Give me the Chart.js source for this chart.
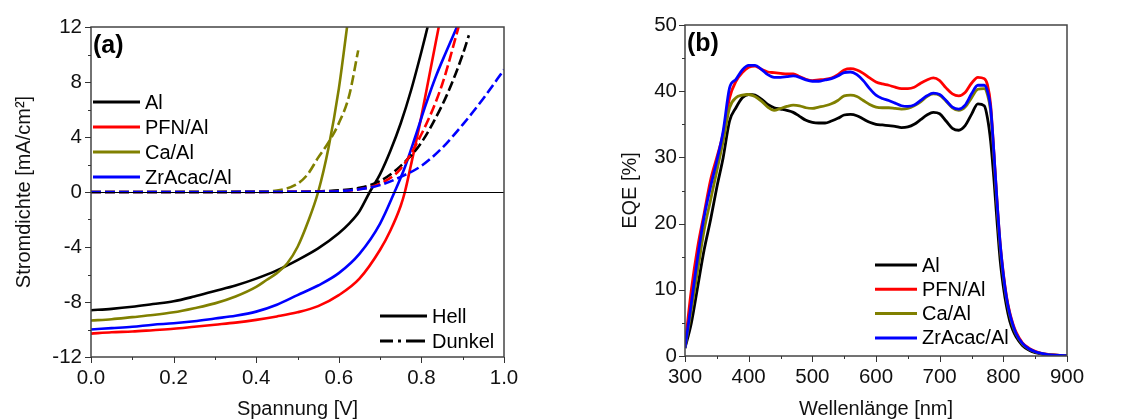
<!DOCTYPE html>
<html>
<head>
<meta charset="utf-8">
<script src="https://cdn.jsdelivr.net/npm/chart.js@4.4.1/dist/chart.umd.min.js"></script>
<style>
  html, body { margin: 0; padding: 0; background: #fff; }
  #wrap { position: relative; width: 1123px; height: 419px; overflow: hidden; }
  #jv { position: absolute; left: 0; top: 0; }
  #eqe { position: absolute; left: 560px; top: 0; }
</style>
</head>
<body>
<div id="wrap">
  <canvas id="jv" width="520" height="419"></canvas>
  <canvas id="eqe" width="563" height="419"></canvas>
</div>
<script>
// ---- (a) JV-Kennlinien: Spannung [V] / Stromdichte [mA/cm2] ----
const alHellV = [0, 0.05, 0.1, 0.15, 0.2, 0.25, 0.3, 0.35, 0.4, 0.45, 0.5, 0.55, 0.6, 0.625, 0.65, 0.675, 0.7, 0.725, 0.75, 0.775, 0.8, 0.815];
const alHellJ = [-8.6, -8.5, -8.35, -8.15, -7.95, -7.6, -7.2, -6.8, -6.3, -5.7, -4.95, -4.1, -3.0, -2.3, -1.4, 0, 1.3, 3.0, 5.0, 7.4, 10.2, 12];

const pfnHellV = [0, 0.05, 0.1, 0.15, 0.2, 0.25, 0.3, 0.35, 0.4, 0.45, 0.5, 0.55, 0.6, 0.65, 0.7, 0.725, 0.75, 0.76, 0.775, 0.8, 0.82, 0.842];
const pfnHellJ = [-10.3, -10.2, -10.15, -10.05, -9.95, -9.8, -9.65, -9.5, -9.3, -9.05, -8.75, -8.3, -7.5, -6.3, -4.2, -2.8, -1.0, 0, 2.0, 5.5, 8.6, 12];

const caHellV = [0, 0.05, 0.1, 0.15, 0.2, 0.25, 0.3, 0.35, 0.4, 0.425, 0.45, 0.475, 0.5, 0.525, 0.55, 0.575, 0.6, 0.62];
const caHellJ = [-9.35, -9.25, -9.1, -8.95, -8.75, -8.45, -8.1, -7.6, -6.9, -6.4, -5.9, -5.2, -4.0, -2.2, 0, 3.2, 7.5, 12];

const zrHellV = [0, 0.05, 0.1, 0.15, 0.2, 0.25, 0.3, 0.35, 0.4, 0.45, 0.5, 0.55, 0.6, 0.65, 0.7, 0.735, 0.76, 0.785, 0.81, 0.835, 0.86, 0.886];
const zrHellJ = [-10.0, -9.9, -9.8, -9.65, -9.55, -9.4, -9.2, -9.0, -8.7, -8.2, -7.5, -6.8, -5.9, -4.5, -2.3, 0, 1.8, 4.0, 6.3, 8.4, 10.2, 12];

const alDunkelV = [0, 0.5, 0.55, 0.6, 0.65, 0.7, 0.75, 0.8, 0.85, 0.875, 0.9, 0.915];
const alDunkelJ = [0, 0.02, 0.05, 0.12, 0.3, 0.8, 1.9, 3.6, 6.3, 8.0, 10.0, 11.4];

const pfnDunkelV = [0, 0.55, 0.6, 0.65, 0.7, 0.75, 0.8, 0.85, 0.89];
const pfnDunkelJ = [0, 0.02, 0.06, 0.2, 0.6, 1.7, 4.2, 7.8, 12];

const caDunkelV = [0, 0.4, 0.45, 0.5, 0.525, 0.55, 0.575, 0.6, 0.625, 0.647];
const caDunkelJ = [0, 0.02, 0.1, 0.6, 1.3, 2.5, 3.6, 5.0, 7.0, 10.3];

const zrDunkelV = [0, 0.55, 0.6, 0.65, 0.7, 0.75, 0.8, 0.85, 0.9, 0.95, 1.0];
const zrDunkelJ = [0, 0.02, 0.06, 0.2, 0.5, 1.1, 1.9, 3.2, 4.9, 6.8, 8.9];

// ---- (b) EQE: Wellenlänge [nm] / EQE [%] ----
const wellenlaenge = [300, 310, 320, 330, 340, 350, 360, 370, 380, 390,
  400, 410, 420, 430, 440, 450, 460, 470, 480, 490,
  500, 510, 520, 530, 540, 550, 560, 570, 580, 590,
  600, 610, 620, 630, 640, 650, 660, 670, 680, 690,
  700, 710, 720, 730, 740, 750, 760, 770,
  775, 780, 785, 790, 795, 800, 805, 810, 815, 820,
  830, 840, 850, 860, 870, 880, 890, 900];

const eqeAl = [1.2, 5, 10.5, 16, 20.5, 25.5, 30, 35.5, 37.5, 39,
  39.5, 39.4, 38.8, 38, 37.5, 37.3, 37.1, 36.8, 36.2, 35.6,
  35.3, 35.2, 35.2, 35.5, 35.9, 36.4, 36.5, 36.3, 35.8, 35.3,
  35.0, 34.9, 34.8, 34.7, 34.5, 34.6, 35.0, 35.7, 36.4, 36.8,
  36.6, 35.5, 34.4, 34.1, 34.8, 36.5, 38.1, 37.8,
  36, 32.5, 27, 20.5, 14.5, 10.5, 7.5, 5.3, 3.9, 2.9,
  1.6, 0.9, 0.5, 0.3, 0.18, 0.12, 0.08, 0.05];

const eqePfn = [1.5, 10, 16.5, 21.5, 26.5, 30, 33.6, 39, 41.5, 42.8,
  43.6, 43.8, 43.3, 42.9, 42.8, 42.7, 42.6, 42.6, 42.2, 41.8,
  41.6, 41.7, 41.8, 42.0, 42.5, 43.2, 43.4, 43.2, 42.7, 42.0,
  41.4, 41.1, 40.9, 40.6, 40.4, 40.4, 40.6, 41.2, 41.7, 42.0,
  41.6, 40.5, 39.6, 39.3, 39.8, 41.2, 42.1, 41.9,
  41, 38, 31, 23.5, 17, 12.5, 9, 6.6, 4.9, 3.6,
  2.0, 1.2, 0.7, 0.4, 0.25, 0.15, 0.1, 0.07];

const eqeCa = [1.2, 7, 13, 19, 23.5, 28, 32.5, 37.5, 39, 39.4,
  39.5, 39.2, 38.5, 37.6, 37.1, 37.4, 37.7, 37.9, 37.8, 37.5,
  37.4, 37.6, 37.8, 38.1, 38.6, 39.3, 39.4, 39.2, 38.6, 38.0,
  37.6, 37.5, 37.5, 37.4, 37.3, 37.4, 37.8, 38.4, 39.2, 39.6,
  39.4, 38.5, 37.5, 37.1, 37.6, 39.0, 40.3, 40.4,
  39.5, 37, 30.5, 23, 16.5, 12, 8.6, 6.2, 4.5, 3.3,
  1.8, 1.05, 0.6, 0.35, 0.2, 0.12, 0.08, 0.05];

const eqeZr = [1.2, 8, 15, 21, 25.5, 29.5, 34, 40.5, 41.8, 43.2,
  43.9, 43.9, 43.3, 42.5, 42.1, 42.1, 42.2, 42.3, 42.1, 41.7,
  41.5, 41.5, 41.7, 41.9, 42.3, 42.8, 42.9, 42.5, 41.6, 40.4,
  39.4, 38.9, 38.6, 38.2, 37.8, 37.7, 37.9, 38.6, 39.3, 39.7,
  39.5, 38.6, 37.6, 37.3, 37.9, 39.6, 40.9, 40.9,
  40, 37.5, 31, 23.5, 17, 12.3, 8.8, 6.4, 4.7, 3.4,
  1.9, 1.1, 0.65, 0.38, 0.22, 0.13, 0.09, 0.06];

const proben = ['Al', 'PFN/Al', 'Ca/Al', 'ZrAcac/Al'];
const farben = ['#000000', '#ff0000', '#808000', '#0000ff'];

const FONT = "'Liberation Sans', Arial, sans-serif";

function pts(xs, ys) {
  return xs.map((x, i) => ({ x: x, y: ys[i] }));
}

// frame, minor ticks, zero line, panel label and in-plot legends
const deco = {
  id: 'deco',
  afterDraw(chart, args, o) {
    const ctx = chart.ctx;
    const a = chart.chartArea;
    const sx = chart.scales.x, sy = chart.scales.y;
    ctx.save();

    if (o.zeroLine) {
      const y0 = Math.round(sy.getPixelForValue(0)) + 0.5;
      ctx.strokeStyle = '#000';
      ctx.lineWidth = 1;
      ctx.beginPath(); ctx.moveTo(a.left, y0); ctx.lineTo(a.right, y0); ctx.stroke();
    }

    ctx.strokeStyle = '#444';
    ctx.lineWidth = 1.5;
    ctx.strokeRect(a.left, a.top, a.right - a.left, a.bottom - a.top);

    ctx.lineWidth = 1;
    ctx.strokeStyle = '#333';
    let n = Math.round((sx.max - sx.min) / o.minorX);
    let k = Math.round(o.majorX / o.minorX);
    for (let i = 0; i <= n; i++) {
      const p = Math.round(sx.getPixelForValue(sx.min + i * o.minorX)) + 0.5;
      ctx.beginPath(); ctx.moveTo(p, a.bottom); ctx.lineTo(p, a.bottom + (i % k === 0 ? 6 : 3)); ctx.stroke();
    }
    n = Math.round((sy.max - sy.min) / o.minorY);
    k = Math.round(o.majorY / o.minorY);
    for (let i = 0; i <= n; i++) {
      const p = Math.round(sy.getPixelForValue(sy.min + i * o.minorY)) + 0.5;
      ctx.beginPath(); ctx.moveTo(a.left, p); ctx.lineTo(a.left - (i % k === 0 ? 6 : 3), p); ctx.stroke();
    }

    ctx.fillStyle = '#000';
    ctx.font = 'bold 25px ' + FONT;
    ctx.textBaseline = 'middle';
    ctx.textAlign = 'left';
    ctx.fillText(o.label, a.left + 2, a.top + 19);

    ctx.font = '20px ' + FONT;
    o.legends.forEach(lg => {
      lg.items.forEach((it, i) => {
        const y = lg.y + i * lg.dy;
        ctx.strokeStyle = it.color;
        ctx.lineWidth = 3;
        ctx.setLineDash(it.dash || []);
        ctx.beginPath(); ctx.moveTo(lg.x0, y); ctx.lineTo(lg.x1, y); ctx.stroke();
        ctx.setLineDash([]);
        ctx.fillText(it.text, lg.x1 + 5, y + 1);
      });
    });
    ctx.restore();
  }
};

function axis(min, max, step, fmt, title, titlePad, tickPad, fitSize, horizontal) {
  return {
    type: 'linear',
    min: min, max: max,
    grid: { display: false },
    border: { display: false },
    ticks: {
      stepSize: step,
      padding: tickPad,
      color: '#111',
      font: { family: FONT, size: 20.5 },
      callback: fmt
    },
    title: {
      display: true,
      text: title,
      color: '#111',
      font: { family: FONT, size: 20, lineHeight: 1 },
      padding: titlePad
    },
    afterFit: s => { if (horizontal) s.height = fitSize; else s.width = fitSize; }
  };
}

const hellSets = [[alHellV, alHellJ], [pfnHellV, pfnHellJ], [caHellV, caHellJ], [zrHellV, zrHellJ]];
const dunkelSets = [[alDunkelV, alDunkelJ], [pfnDunkelV, pfnDunkelJ], [caDunkelV, caDunkelJ], [zrDunkelV, zrDunkelJ]];

const jvDatasets = [];
dunkelSets.forEach((d, i) => jvDatasets.push({
  label: proben[i] + ' dunkel', data: pts(d[0], d[1]),
  borderColor: farben[i], borderWidth: 2.6, borderDash: [10, 4],
  pointRadius: 0, fill: false, cubicInterpolationMode: 'monotone', order: 3 - i
}));
hellSets.forEach((d, i) => jvDatasets.push({
  label: proben[i], data: pts(d[0], d[1]),
  borderColor: farben[i], borderWidth: 2.6,
  pointRadius: 0, fill: false, cubicInterpolationMode: 'monotone', order: 10 - i
}));

new Chart(document.getElementById('jv'), {
  type: 'scatter',
  data: { datasets: jvDatasets.map(d => Object.assign(d, { showLine: true })) },
  options: {
    responsive: false,
    animation: false,
    layout: { padding: { left: 0, right: 16, top: 27, bottom: 0 } },
    plugins: {
      legend: { display: false },
      tooltip: { enabled: false },
      deco: {
        zeroLine: true, label: '(a)',
        minorX: 0.1, majorX: 0.2, minorY: 2, majorY: 4,
        legends: [
          { x0: 93, x1: 140, y: 102, dy: 25,
            items: proben.map((p, i) => ({ text: p, color: farben[i] })) },
          { x0: 380, x1: 427, y: 316, dy: 25,
            items: [{ text: 'Hell', color: '#000' }, { text: 'Dunkel', color: '#000', dash: [13, 5, 3, 5, 6, 0] }] }
        ]
      }
    },
    scales: {
      x: axis(0, 1, 0.2, v => v.toFixed(1), 'Spannung [V]', { top: 0, bottom: 0 }, 1, 62, true),
      y: axis(-12, 12, 4, v => String(v), 'Stromdichte [mA/cm²]', { top: 14, bottom: 0 }, 1, 91, false)
    }
  },
  plugins: [deco]
});

new Chart(document.getElementById('eqe'), {
  type: 'line',
  data: {
    datasets: [eqeAl, eqePfn, eqeCa, eqeZr].map((v, i) => ({
      label: proben[i], data: pts(wellenlaenge, v),
      borderColor: farben[i], borderWidth: 2.8,
      pointRadius: 0, fill: false, cubicInterpolationMode: 'monotone', order: 3 - i
    }))
  },
  options: {
    responsive: false,
    animation: false,
    layout: { padding: { left: 0, right: 56, top: 25, bottom: 0 } },
    plugins: {
      legend: { display: false },
      tooltip: { enabled: false },
      deco: {
        zeroLine: false, label: '(b)',
        minorX: 50, majorX: 100, minorY: 5, majorY: 10,
        legends: [
          { x0: 315, x1: 357, y: 265, dy: 24.3,
            items: proben.map((p, i) => ({ text: p, color: farben[i] })) }
        ]
      }
    },
    scales: {
      x: axis(300, 900, 100, v => String(v), 'Wellenlänge [nm]', { top: 0, bottom: 0 }, 1, 63, true),
      y: axis(0, 50, 10, v => String(v), 'EQE [%]', { top: 60, bottom: 0 }, 0, 125, false)
    }
  },
  plugins: [deco]
});
</script>
</body>
</html>
